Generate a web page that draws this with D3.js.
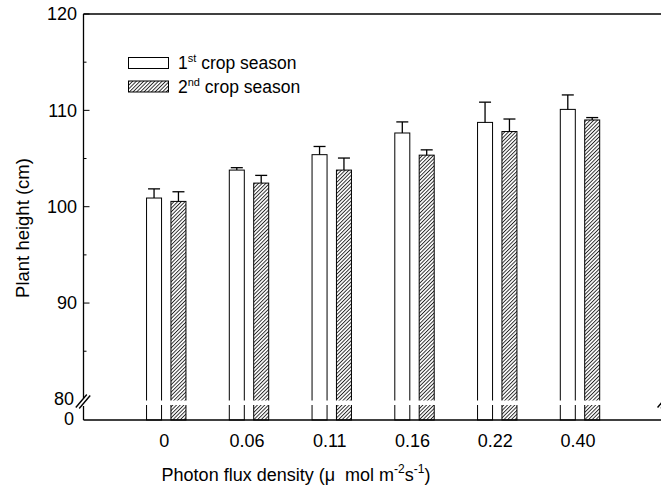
<!DOCTYPE html>
<html>
<head>
<meta charset="utf-8">
<script src="https://cdn.jsdelivr.net/npm/d3@7"></script>
<style>
  body { margin: 0; background: #fff; }
  svg { display: block; font-family: "Liberation Sans", Arial, sans-serif; }
  text { white-space: pre; }
</style>
</head>
<body>
<div id="chart"></div>
<script>
// data
const categories = ["0", "0.06", "0.11", "0.16", "0.22", "0.40"];
const season1 = [100.9, 103.8, 105.4, 107.65, 108.75, 110.1];
const season1Err = [0.95, 0.25, 0.85, 1.15, 2.1, 1.5];
const season2 = [100.55, 102.45, 103.8, 105.35, 107.8, 109.0];
const season2Err = [1.0, 0.8, 1.25, 0.55, 1.3, 0.25];
const yMajor = [90, 100, 110, 120];
const yMinor = [85, 95, 105, 115];

const W = 661, H = 492;

const svg = d3.select("#chart")
    .append("svg")
    .attr("width", W)
    .attr("height", H);

// hatch pattern for 2nd season
const defs = svg.append("defs");
defs.append("pattern")
    .attr("id", "hatch")
    .attr("patternUnits", "userSpaceOnUse")
    .attr("width", 2.6)
    .attr("height", 2.6)
    .attr("patternTransform", "rotate(45)")
    .append("line")
    .attr("x1", 0.5).attr("y1", 0)
    .attr("x2", 0.5).attr("y2", 2.6)
    .attr("stroke", "#000")
    .attr("stroke-width", 0.8);

//Scales
const x = d3.scaleLinear().domain([0, 7]).range([83.5, 662.75]);
const sub = d3.scaleBand().domain(["s1", "s2"]).range([-19.7, 19.7]).paddingInner(0.385);
const y = d3.scaleLinear().domain([80, 120]).range([399.4, 14]);
const yLow = d3.scaleLinear().domain([0, 80]).range([420, 399.4]);
const y0 = 420, gapTop = 400.5, gapBot = 405;

const series = [
    {key: "s1", vals: season1, err: season1Err, fill: "#fff"},
    {key: "s2", vals: season2, err: season2Err, fill: "url(#hatch)"}
];

//Bars
series.forEach(s => {
    const g = svg.append("g");
    const cx = i => x(i + 1) + sub(s.key) + sub.bandwidth() / 2;
    g.selectAll("rect")
        .data(s.vals)
        .join("rect")
        .attr("x", (d, i) => x(i + 1) + sub(s.key))
        .attr("y", d => y(d))
        .attr("width", sub.bandwidth())
        .attr("height", d => y0 - y(d))
        .attr("fill", s.fill)
        .attr("stroke", "#000")
        .attr("stroke-width", 1);

    // error bars (upper only)
    g.selectAll(".eb")
        .data(s.vals)
        .join("line")
        .attr("class", "eb")
        .attr("x1", (d, i) => cx(i))
        .attr("x2", (d, i) => cx(i))
        .attr("y1", d => y(d))
        .attr("y2", (d, i) => y(d + s.err[i]))
        .attr("stroke", "#000")
        .attr("stroke-width", 1.3);
    g.selectAll(".cap")
        .data(s.vals)
        .join("line")
        .attr("class", "cap")
        .attr("x1", (d, i) => cx(i) - 6)
        .attr("x2", (d, i) => cx(i) + 6)
        .attr("y1", (d, i) => y(d + s.err[i]))
        .attr("y2", (d, i) => y(d + s.err[i]))
        .attr("stroke", "#000")
        .attr("stroke-width", 1.3);
});

// white gap of the axis break
svg.append("rect")
    .attr("x", x(0) + 1).attr("y", gapTop)
    .attr("width", W).attr("height", gapBot - gapTop)
    .attr("fill", "#fff");

//Frame lines
const axisStyle = sel => sel.attr("stroke", "#000").attr("stroke-width", 1.3);
svg.append("line").attr("x1", x(0)).attr("x2", W).attr("y1", y(120)).attr("y2", y(120)).call(axisStyle);
svg.append("line").attr("x1", x(0)).attr("x2", W).attr("y1", y0).attr("y2", y0).call(axisStyle);
svg.append("line").attr("x1", x(0)).attr("x2", x(0)).attr("y1", y(120)).attr("y2", 398).call(axisStyle);
svg.append("line").attr("x1", x(0)).attr("x2", x(0)).attr("y1", 406).attr("y2", y0).call(axisStyle);

// break marks (right one sits just outside the picture)
[x(0), x(7) + 2.5].forEach(cx => {
    [-1.7, 1.7].forEach(o => {
        svg.append("line")
            .attr("x1", cx - 6 + o).attr("y1", 408 + o * 0.3)
            .attr("x2", cx + 5 + o).attr("y2", 395 + o * 0.3)
            .attr("stroke", "#000")
            .attr("stroke-width", 1.4);
    });
});

//Y ticks (inward)
svg.append("g").selectAll("line")
    .data(yMajor)
    .join("line")
    .attr("x1", x(0)).attr("x2", x(0) + 6)
    .attr("y1", d => y(d)).attr("y2", d => y(d))
    .attr("stroke", "#000").attr("stroke-width", 1);
svg.append("g").selectAll("line")
    .data(yMinor)
    .join("line")
    .attr("x1", x(0)).attr("x2", x(0) + 3)
    .attr("y1", d => y(d)).attr("y2", d => y(d))
    .attr("stroke", "#000").attr("stroke-width", 1);

//Y tick labels
svg.append("g").selectAll("text")
    .data(yMajor)
    .join("text")
    .attr("x", 77)
    .attr("y", d => y(d))
    .attr("dy", "0.35em")
    .attr("text-anchor", "end")
    .attr("font-size", 18)
    .text(d => d);
svg.append("text").attr("x", 74).attr("y", y(80) - 1).attr("dy", "0.35em")
    .attr("text-anchor", "end").attr("font-size", 18).text("80");
svg.append("text").attr("x", 74).attr("y", yLow(0) - 1).attr("dy", "0.35em")
    .attr("text-anchor", "end").attr("font-size", 18).text("0");

//X tick labels
svg.append("g").selectAll("text")
    .data(categories)
    .join("text")
    .attr("x", (d, i) => x(i + 1) - 2)
    .attr("y", 447)
    .attr("text-anchor", "middle")
    .attr("font-size", 18)
    .text(d => d);

//Axis titles
svg.append("text")
    .attr("transform", "translate(29, 228) rotate(-90)")
    .attr("text-anchor", "middle")
    .attr("font-size", 18.5)
    .text("Plant height (cm)");

const xt = svg.append("text")
    .attr("x", 296)
    .attr("y", 481)
    .attr("text-anchor", "middle")
    .attr("font-size", 18);
xt.append("tspan").text("Photon flux density (\u03bc  mol m");
xt.append("tspan").attr("font-size", 12).attr("dy", -8).text("-2");
xt.append("tspan").attr("dy", 8).text("s");
xt.append("tspan").attr("font-size", 12).attr("dy", -8).text("-1");
xt.append("tspan").attr("dy", 8).text(")");

//Legend
const legend = [
    {fill: "#fff", main: "1", sup: "st", y: 57.5},
    {fill: "url(#hatch)", main: "2", sup: "nd", y: 81}
];
legend.forEach(l => {
    svg.append("rect")
        .attr("x", 128.5).attr("y", l.y)
        .attr("width", 40).attr("height", 11)
        .attr("fill", l.fill)
        .attr("stroke", "#000").attr("stroke-width", 1);
    const t = svg.append("text")
        .attr("x", 178)
        .attr("y", l.y + 11.5)
        .attr("font-size", 17.5);
    t.append("tspan").text(l.main);
    t.append("tspan").attr("font-size", 11).attr("dy", -7).text(l.sup);
    t.append("tspan").attr("dy", 7).text(" crop season");
});
</script>
</body>
</html>
